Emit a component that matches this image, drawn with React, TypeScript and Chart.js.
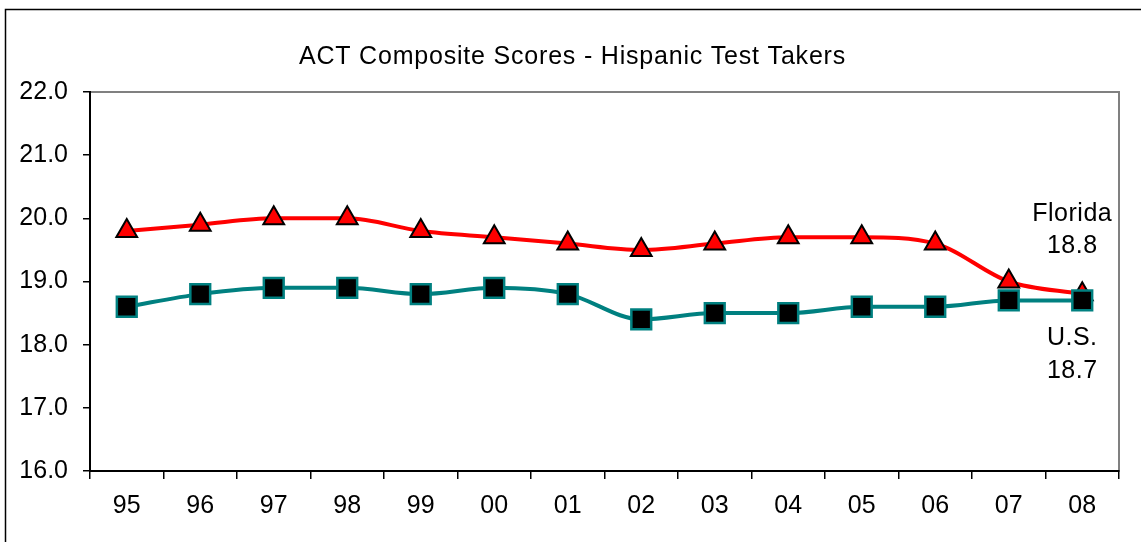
import React, { useEffect, useRef } from "react";
import { Chart, registerables } from "chart.js";

Chart.register(...registerables);

const TITLE = "ACT Composite Scores - Hispanic Test Takers";
const YEARS = ["95", "96", "97", "98", "99", "00", "01", "02", "03", "04", "05", "06", "07", "08"];
const FLORIDA = [19.8, 19.9, 20.0, 20.0, 19.8, 19.7, 19.6, 19.5, 19.6, 19.7, 19.7, 19.6, 19.0, 18.8];
const US = [18.6, 18.8, 18.9, 18.9, 18.8, 18.9, 18.8, 18.4, 18.5, 18.5, 18.6, 18.6, 18.7, 18.7];
const Y_MIN = 16;
const Y_MAX = 22;

const FONT = "'Liberation Sans', Arial, sans-serif";

const decorPlugin = {
  id: "decor",
  beforeDraw(chart: any) {
    const ctx = chart.ctx;
    const a = chart.chartArea;
    ctx.save();
    ctx.fillStyle = "#ffffff";
    ctx.fillRect(0, 0, chart.width, chart.height);
    // outer border
    ctx.strokeStyle = "#000000";
    ctx.lineWidth = 1.5;
    ctx.strokeRect(5.5, 9.5, chart.width + 20, chart.height + 20);
    // plot border (gray)
    ctx.strokeStyle = "#808080";
    ctx.lineWidth = 2;
    ctx.strokeRect(a.left, a.top, a.right - a.left, a.bottom - a.top);
    // title
    ctx.fillStyle = "#000000";
    ctx.font = `25px ${FONT}`;
    ctx.textAlign = "center";
    ctx.textBaseline = "middle";
    try { (ctx as any).letterSpacing = "0.8px"; } catch (e) {}
    ctx.fillText(TITLE, chart.width / 2 + 2, 57);
    ctx.restore();
  },
  afterDatasetsDraw(chart: any) {
    const ctx = chart.ctx;
    const xs = chart.scales.x;
    const ys = chart.scales.y;
    const last = YEARS.length - 1;
    const x = xs.getPixelForValue(last) - 10;
    const fl = FLORIDA[last];
    const us = US[last];
    ctx.save();
    ctx.fillStyle = "#000000";
    ctx.font = `25px ${FONT}`;
    ctx.textAlign = "center";
    ctx.textBaseline = "middle";
    try { (ctx as any).letterSpacing = "0.5px"; } catch (e) {}
    const yf = ys.getPixelForValue(fl);
    ctx.fillText("Florida", x, yf - 80);
    ctx.fillText(fl.toFixed(1), x, yf - 48);
    const yu = ys.getPixelForValue(us);
    ctx.fillText("U.S.", x, yu + 38);
    ctx.fillText(us.toFixed(1), x, yu + 71);
    ctx.restore();
  },
};

export default function App() {
  const ref = useRef<HTMLCanvasElement | null>(null);
  useEffect(() => {
    document.body.style.margin = "0";
    if (!ref.current) return;
    const chart = new Chart(ref.current, {
      type: "line",
      data: {
        labels: YEARS,
        datasets: [
          {
            label: "U.S.",
            data: US,
            borderColor: "#008080",
            backgroundColor: "#000000",
            borderWidth: 4,
            pointStyle: "rect",
            pointRadius: 14,
            pointBorderWidth: 2.5,
            pointBorderColor: "#008080",
            pointBackgroundColor: "#000000",
            cubicInterpolationMode: "monotone",
          },
          {
            label: "Florida",
            data: FLORIDA,
            borderColor: "#ff0000",
            backgroundColor: "#ff0000",
            borderWidth: 4,
            pointStyle: "triangle",
            pointRadius: 12,
            pointBorderWidth: 2,
            pointBorderColor: "#000000",
            pointBackgroundColor: "#ff0000",
            cubicInterpolationMode: "monotone",
          },
        ],
      },
      options: {
        animation: false,
        responsive: false,
        events: [],
        layout: { padding: { top: 92, right: 22, left: 0, bottom: 0 } },
        plugins: {
          legend: { display: false },
          title: { display: false },
          tooltip: { enabled: false },
        },
        scales: {
          x: {
            offset: true,
            grid: { offset: true, drawOnChartArea: false, drawTicks: true, tickLength: 8, color: "#000000", lineWidth: 1.5 },
            border: { color: "#000000", width: 2 },
            ticks: { color: "#000000", font: { family: FONT, size: 25 }, padding: 12, maxRotation: 0, autoSkip: false },
            afterFit: (s: any) => { s.height = 71; },
          },
          y: {
            min: Y_MIN,
            max: Y_MAX,
            grid: { drawOnChartArea: false, drawTicks: true, tickLength: 7, color: "#000000", lineWidth: 1.5 },
            border: { color: "#000000", width: 2 },
            ticks: {
              stepSize: 1,
              color: "#000000",
              font: { family: FONT, size: 25 },
              padding: 15,
              callback: (v: any) => Number(v).toFixed(1),
            },
            afterFit: (s: any) => { s.width = 90; },
          },
        },
      },
      plugins: [decorPlugin],
    });
    return () => chart.destroy();
  }, []);
  return (
    <div style={{ width: 1141, height: 542 }}>
      <canvas ref={ref} width={1141} height={542} />
    </div>
  );
}
